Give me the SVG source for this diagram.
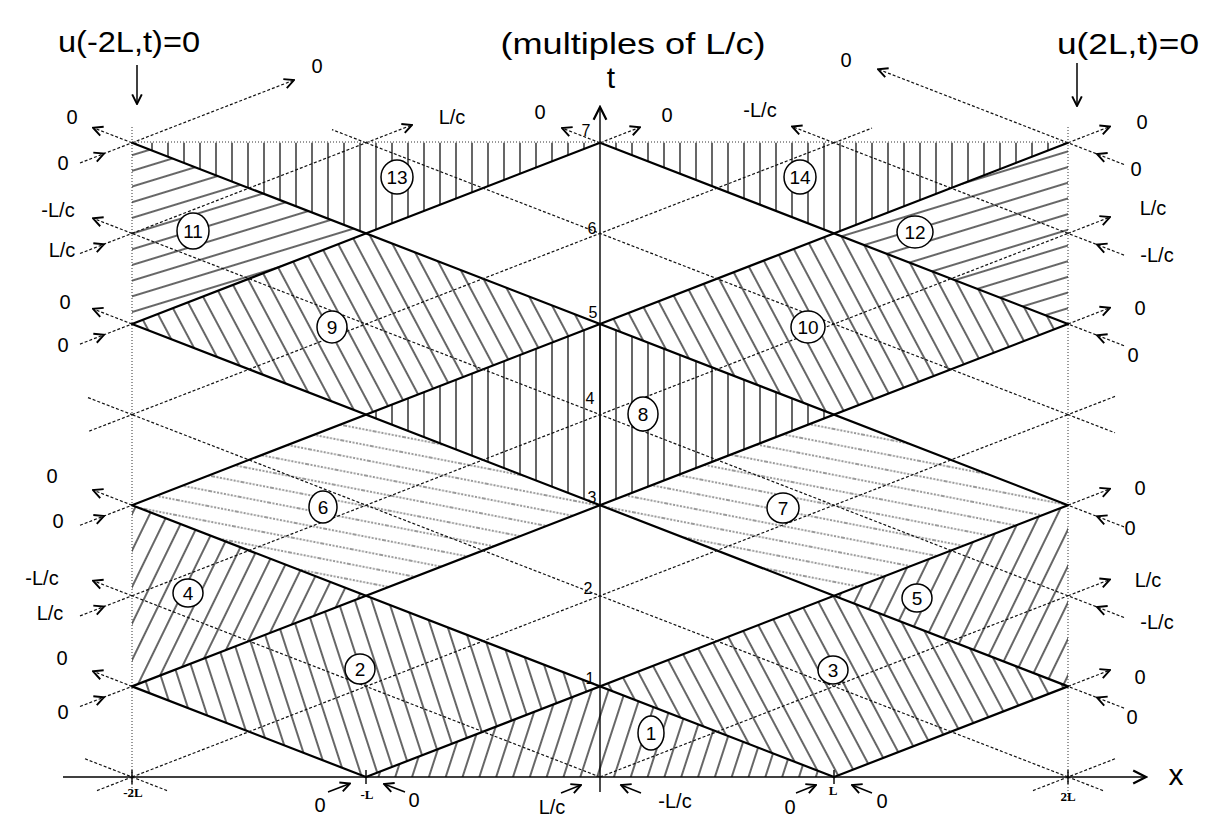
<svg xmlns="http://www.w3.org/2000/svg" width="1213" height="819" viewBox="0 0 1213 819">
<defs>
<style>
.solid{stroke:#000;stroke-width:2.2;fill:none;stroke-linecap:round}
.dash{stroke:#111;stroke-width:1.2;stroke-dasharray:3 2;fill:none}
.dot{stroke:#333;stroke-width:1;stroke-dasharray:1 2;fill:none}
.ax{stroke:#000;stroke-width:1.4;fill:none}
.out{marker-end:url(#arr)}
.in{marker-mid:url(#arr)}
.sarr{stroke:#000;stroke-width:1.5;fill:none;marker-end:url(#arr)}
.lbl{font-family:"Liberation Sans",Arial,sans-serif;font-size:20px;text-anchor:middle;fill:#000}
.big{font-family:"Liberation Sans",Arial,sans-serif;font-size:30px;text-anchor:middle;fill:#000}
.tk{font-family:"Liberation Serif","Times New Roman",serif;font-size:13px;font-weight:bold;text-anchor:middle;fill:#000}
.dg{font-family:"Liberation Sans",Arial,sans-serif;font-size:16px;text-anchor:middle;fill:#000}
.num{font-family:"Liberation Sans",Arial,sans-serif;font-size:19px;text-anchor:middle;fill:#000}
.circ{fill:#fff;stroke:#000;stroke-width:1.5}
</style>
<marker id="arr" viewBox="0 0 10 10" refX="9" refY="5" markerUnits="userSpaceOnUse" markerWidth="12" markerHeight="12" orient="auto">
<path d="M1,1 L9,5 L1,9" fill="none" stroke="#000" stroke-width="1.6"/>
</marker>
<marker id="bigarr" viewBox="0 0 10 10" refX="9" refY="5" markerUnits="userSpaceOnUse" markerWidth="16" markerHeight="16" orient="auto">
<path d="M1,1 L9,5 L1,9" fill="none" stroke="#000" stroke-width="1.4"/>
</marker>
<pattern id="hV" patternUnits="userSpaceOnUse" width="16" height="20"><line x1="8" y1="0" x2="8" y2="20" stroke="#000" stroke-width="1.2"/></pattern>
<pattern id="hB" patternUnits="userSpaceOnUse" width="16" height="20" patternTransform="rotate(-28)"><line x1="8" y1="0" x2="8" y2="20" stroke="#000" stroke-width="1.2"/></pattern>
<pattern id="hB2" patternUnits="userSpaceOnUse" width="16" height="20" patternTransform="rotate(-18)"><line x1="8" y1="0" x2="8" y2="20" stroke="#000" stroke-width="1.2"/></pattern>
<pattern id="hF" patternUnits="userSpaceOnUse" width="16" height="20" patternTransform="rotate(26)"><line x1="8" y1="0" x2="8" y2="20" stroke="#000" stroke-width="1.2"/></pattern>
<pattern id="hF1" patternUnits="userSpaceOnUse" width="16" height="20" patternTransform="rotate(18)"><line x1="8" y1="0" x2="8" y2="20" stroke="#000" stroke-width="1.2"/></pattern>
<pattern id="hD" patternUnits="userSpaceOnUse" width="30" height="15" patternTransform="rotate(11)"><line x1="0" y1="7" x2="30" y2="7" stroke="#333" stroke-width="1" stroke-dasharray="2 1.5"/></pattern>
<pattern id="hS" patternUnits="userSpaceOnUse" width="30" height="15" patternTransform="rotate(-17)"><line x1="0" y1="7" x2="30" y2="7" stroke="#000" stroke-width="1.2"/></pattern>
</defs>
<rect width="1213" height="819" fill="#fff"/>

<g id="regions">
<g id="region-1"><polygon points="366,777 600,686.4 834,777" fill="url(#hF1)"/></g>
<g id="region-2"><polygon points="366,777 600,686.4 366,595.8 132,686.4" fill="url(#hB2)"/></g>
<g id="region-3"><polygon points="834,777 1068,686.4 834,595.8 600,686.4" fill="url(#hB)"/></g>
<g id="region-4"><polygon points="132,686.4 366,595.8 132,505.2" fill="url(#hF)"/></g>
<g id="region-5"><polygon points="1068,686.4 834,595.8 1068,505.2" fill="url(#hF)"/></g>
<g id="region-6"><polygon points="366,595.8 600,505.2 366,414.6 132,505.2" fill="url(#hD)"/></g>
<g id="region-7"><polygon points="834,595.8 1068,505.2 834,414.6 600,505.2" fill="url(#hD)"/></g>
<g id="region-8"><polygon points="600,505.2 834,414.6 600,324 366,414.6" fill="url(#hV)"/></g>
<g id="region-9"><polygon points="366,414.6 600,324 366,233.4 132,324" fill="url(#hB)"/></g>
<g id="region-10"><polygon points="834,414.6 1068,324 834,233.4 600,324" fill="url(#hB)"/></g>
<g id="region-11"><polygon points="132,324 366,233.4 132,142.8" fill="url(#hS)"/></g>
<g id="region-12"><polygon points="1068,324 834,233.4 1068,142.8" fill="url(#hS)"/></g>
<g id="region-13"><polygon points="132,142.8 600,142.8 366,233.4" fill="url(#hV)"/></g>
<g id="region-14"><polygon points="600,142.8 1068,142.8 834,233.4" fill="url(#hV)"/></g>
</g>

<g id="connectors">
<line class="dot" x1="132" y1="127" x2="132" y2="798"/>
<line class="dot" x1="1068" y1="127" x2="1068" y2="798"/>
<line class="dot" x1="132" y1="142" x2="1068" y2="142"/>
<line class="ax" x1="63" y1="777" x2="1146" y2="777" marker-end="url(#bigarr)"/>
<line class="ax" x1="600" y1="792" x2="600" y2="107" marker-end="url(#bigarr)"/>
<line class="solid" x1="834" y1="777" x2="1068" y2="686.4"/>
<line class="solid" x1="366" y1="777" x2="1068" y2="505.2"/>
<line class="solid" x1="132" y1="686.4" x2="1068" y2="324"/>
<line class="solid" x1="132" y1="505.2" x2="1068" y2="142.8"/>
<line class="solid" x1="132" y1="324" x2="600" y2="142.8"/>
<line class="solid" x1="366" y1="777" x2="132" y2="686.4"/>
<line class="solid" x1="834" y1="777" x2="132" y2="505.2"/>
<line class="solid" x1="1068" y1="686.4" x2="132" y2="324"/>
<line class="solid" x1="1068" y1="505.2" x2="132" y2="142.8"/>
<line class="solid" x1="1068" y1="324" x2="600" y2="142.8"/>
<line class="dash" x1="600" y1="777" x2="1068" y2="595.8"/>
<line class="dash" x1="132" y1="777" x2="1068" y2="414.6"/>
<line class="dash" x1="132" y1="595.8" x2="1068" y2="233.4"/>
<line class="dash" x1="132" y1="414.6" x2="834" y2="142.8"/>
<line class="dash" x1="132" y1="233.4" x2="366" y2="142.8"/>
<line class="dash" x1="600" y1="777" x2="132" y2="595.8"/>
<line class="dash" x1="1068" y1="777" x2="132" y2="414.6"/>
<line class="dash" x1="1068" y1="595.8" x2="132" y2="233.4"/>
<line class="dash" x1="1068" y1="414.6" x2="366" y2="142.8"/>
<line class="dash" x1="1068" y1="233.4" x2="834" y2="142.8"/>
<path class="dash out" d="M132,142.8 L93,127.7"/>
<path class="dash in" d="M80,163 L104,153.6 L132,142.8"/>
<path class="dash out" d="M132,233.4 L93,218.3"/>
<path class="dash in" d="M80,253.5 L104,244.2 L132,233.4"/>
<path class="dash out" d="M132,324 L93,308.9"/>
<path class="dash in" d="M80,344.1 L104,334.8 L132,324"/>
<path class="dash" d="M88,397.6 L132,414.6 L88,431.6"/>
<path class="dash out" d="M132,505.2 L93,490.1"/>
<path class="dash in" d="M80,525.3 L104,516 L132,505.2"/>
<path class="dash out" d="M132,595.8 L93,580.7"/>
<path class="dash in" d="M80,615.9 L104,606.6 L132,595.8"/>
<path class="dash out" d="M132,686.4 L93,671.3"/>
<path class="dash in" d="M80,706.5 L104,697.2 L132,686.4"/>
<path class="dash" d="M85,758.8 L132,777 L167,790.6 M97,790.6 L132,777"/>
<path class="dash out" d="M1068,142.8 L1110,126.5"/>
<path class="dash in" d="M1124,164.5 L1097,154 L1068,142.8"/>
<path class="dash out" d="M1068,233.4 L1110,217.1"/>
<path class="dash in" d="M1124,255.1 L1097,244.6 L1068,233.4"/>
<path class="dash out" d="M1068,324 L1110,307.7"/>
<path class="dash in" d="M1124,345.7 L1097,335.2 L1068,324"/>
<path class="dash" d="M1115,396.4 L1068,414.6 L1115,432.8"/>
<path class="dash out" d="M1068,505.2 L1110,488.9"/>
<path class="dash in" d="M1124,526.9 L1097,516.4 L1068,505.2"/>
<path class="dash out" d="M1068,595.8 L1110,579.5"/>
<path class="dash in" d="M1124,617.5 L1097,607 L1068,595.8"/>
<path class="dash out" d="M1068,686.4 L1110,670.1"/>
<path class="dash in" d="M1124,708.1 L1097,697.6 L1068,686.4"/>
<path class="dash" d="M1115,758.8 L1068,777 L1033,790.6 M1103,790.6 L1068,777"/>
<path class="dash out" d="M132,142.8 L294,80.1"/>
<path class="dash out" d="M1068,142.8 L878,69.2"/>
<path class="dash out" d="M366,142.8 L412,125"/>
<path class="dash" d="M366,142.8 L332,129.6"/>
<path class="dash out" d="M600,142.8 L562,128.1"/>
<path class="dash out" d="M600,142.8 L640,127.3"/>
<path class="dash out" d="M834,142.8 L792,126.5"/>
<path class="dash" d="M834,142.8 L872,128.1"/>
<path class="sarr" d="M328,792 L350,783.5"/>
<path class="sarr" d="M405,792 L384,784"/>
<path class="sarr" d="M561,793 L581,785"/>
<path class="sarr" d="M641,793 L621,785"/>
<path class="sarr" d="M796,793 L816,785"/>
<path class="sarr" d="M872,793 L852,785"/>
<path class="sarr" d="M137,65 L137,104"/>
<path class="sarr" d="M1077,63 L1077,106"/>
<path class="ax" d="M132,770 V784 M366,770 V784 M834,770 V784 M1068,770 V784"/>
</g>

<g id="circles">
<ellipse class="circ" cx="651" cy="733" rx="13" ry="17"/><text class="num" x="651" y="740">1</text>
<ellipse class="circ" cx="360" cy="669" rx="15" ry="15"/><text class="num" x="360" y="676">2</text>
<ellipse class="circ" cx="833" cy="670" rx="15" ry="14"/><text class="num" x="833" y="677">3</text>
<ellipse class="circ" cx="188" cy="593" rx="15" ry="14"/><text class="num" x="188" y="600">4</text>
<ellipse class="circ" cx="917" cy="598" rx="15" ry="14"/><text class="num" x="917" y="605">5</text>
<ellipse class="circ" cx="323" cy="507" rx="14" ry="16"/><text class="num" x="323" y="514">6</text>
<ellipse class="circ" cx="783" cy="508" rx="16" ry="15"/><text class="num" x="783" y="515">7</text>
<ellipse class="circ" cx="643" cy="414" rx="15" ry="17"/><text class="num" x="643" y="421">8</text>
<ellipse class="circ" cx="332" cy="327" rx="15" ry="16"/><text class="num" x="332" y="334">9</text>
<ellipse class="circ" cx="808" cy="327" rx="17" ry="16"/><text class="num" x="808" y="334">10</text>
<ellipse class="circ" cx="193" cy="231" rx="16" ry="18"/><text class="num" x="193" y="238">11</text>
<ellipse class="circ" cx="915" cy="232" rx="18" ry="16"/><text class="num" x="915" y="239">12</text>
<ellipse class="circ" cx="397" cy="177" rx="16" ry="17"/><text class="num" x="397" y="184">13</text>
<ellipse class="circ" cx="800" cy="177" rx="16" ry="17"/><text class="num" x="800" y="184">14</text>
</g>

<g id="labels">
<text class="big" x="633" y="54" textLength="265" lengthAdjust="spacingAndGlyphs">(multiples of L/c)</text>
<text class="big" x="611" y="88">t</text>
<text class="big" x="1176" y="785">x</text>
<text class="big" x="129" y="52" textLength="142" lengthAdjust="spacingAndGlyphs">u(-2L,t)=0</text>
<text class="big" x="1128" y="54" textLength="142" lengthAdjust="spacingAndGlyphs">u(2L,t)=0</text>
<text class="dg" x="590" y="684">1</text>
<text class="dg" x="588" y="594">2</text>
<text class="dg" x="592" y="503">3</text>
<text class="dg" x="590" y="404">4</text>
<text class="dg" x="593" y="318">5</text>
<text class="dg" x="592" y="234">6</text>
<text class="dg" x="586" y="136">7</text>
<text class="tk" x="133" y="797">-2L</text>
<text class="tk" x="367" y="799">-L</text>
<text class="tk" x="833" y="795">L</text>
<text class="tk" x="1068" y="801">2L</text>
<text class="lbl" x="72" y="124">0</text>
<text class="lbl" x="63" y="170">0</text>
<text class="lbl" x="58" y="217">-L/c</text>
<text class="lbl" x="62" y="257">L/c</text>
<text class="lbl" x="65" y="309">0</text>
<text class="lbl" x="63" y="352">0</text>
<text class="lbl" x="52" y="483">0</text>
<text class="lbl" x="58" y="528">0</text>
<text class="lbl" x="42" y="585">-L/c</text>
<text class="lbl" x="50" y="620">L/c</text>
<text class="lbl" x="62" y="665">0</text>
<text class="lbl" x="63" y="719">0</text>
<text class="lbl" x="1142" y="129">0</text>
<text class="lbl" x="1136" y="176">0</text>
<text class="lbl" x="1153" y="215">L/c</text>
<text class="lbl" x="1157" y="262">-L/c</text>
<text class="lbl" x="1140" y="315">0</text>
<text class="lbl" x="1133" y="362">0</text>
<text class="lbl" x="1140" y="495">0</text>
<text class="lbl" x="1130" y="535">0</text>
<text class="lbl" x="1148" y="587">L/c</text>
<text class="lbl" x="1157" y="629">-L/c</text>
<text class="lbl" x="1140" y="684">0</text>
<text class="lbl" x="1132" y="724">0</text>
<text class="lbl" x="317" y="73">0</text>
<text class="lbl" x="846" y="67">0</text>
<text class="lbl" x="452" y="124">L/c</text>
<text class="lbl" x="540" y="119">0</text>
<text class="lbl" x="667" y="122">0</text>
<text class="lbl" x="760" y="117">-L/c</text>
<text class="lbl" x="320" y="812">0</text>
<text class="lbl" x="414" y="807">0</text>
<text class="lbl" x="552" y="814">L/c</text>
<text class="lbl" x="675" y="808">-L/c</text>
<text class="lbl" x="790" y="814">0</text>
<text class="lbl" x="882" y="808">0</text>
</g>
</svg>
